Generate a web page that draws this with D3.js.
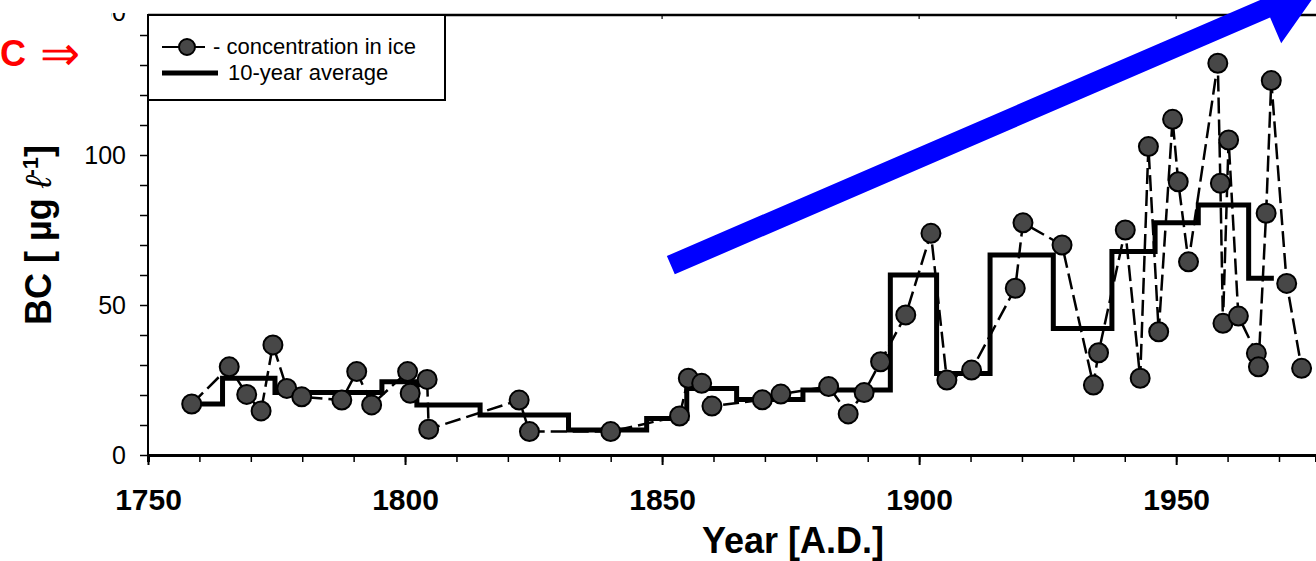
<!DOCTYPE html>
<html><head><meta charset="utf-8">
<script src="https://cdn.jsdelivr.net/npm/d3@7"></script>
<style>
body{margin:0;background:#fff}
svg{display:block}
text{font-family:"Liberation Sans",Arial,Helvetica,sans-serif}
</style>
</head><body>
<svg id="c" width="1316" height="561"></svg>
<script>
// ---- data ----
const years = [1758.5,1765.8,1769.2,1772.0,1774.3,1777.0,1779.9,1787.7,1790.6,1793.5,
  1800.5,1801.0,1804.3,1804.6,1822.2,1824.2,1840.0,1853.4,1855.1,1857.7,1859.7,
  1869.5,1873.1,1882.4,1886.2,1889.3,1892.5,1897.4,1902.3,1905.4,1910.2,1918.7,1920.2,
  1927.8,1933.9,1934.9,1940.1,1943.0,1944.6,1946.6,1949.3,1950.4,1952.4,1958.1,1958.6,
  1959.1,1960.2,1962.1,1965.6,1966.0,1967.5,1968.5,1971.5,1974.4];
const concentration = [17.0,29.4,20.2,14.7,36.7,22.2,19.4,18.3,27.8,16.7,
  27.8,20.6,25.2,8.6,18.3,7.8,7.8,13.0,25.6,23.9,16.3,
  18.4,20.3,22.8,13.7,20.8,31.1,46.7,73.9,25.0,28.3,55.6,77.4,
  70.0,23.3,34.1,75.0,25.6,102.8,41.1,111.9,91.1,64.4,130.6,90.6,
  43.9,105.0,46.3,33.9,29.4,80.6,124.8,57.2,28.9];
const avgStart = [1758.5,1764.5,1774.7,1795.5,1802.3,1814.6,1831.8,1847.0,1854.8,1864.5,1877.4,1894.4,1903.4,1913.8,1926.1,1937.5,1945.9,1954.3,1964.1];
const avgEnd   = [1764.5,1774.7,1795.5,1802.3,1814.6,1831.8,1847.0,1854.8,1864.5,1877.4,1894.4,1903.4,1913.8,1926.1,1937.5,1945.9,1954.3,1964.1,1969.0];
const avgValue = [17.0,25.6,20.8,24.4,16.7,13.3,8.3,12.2,22.2,18.5,21.7,60.0,27.2,66.7,42.2,67.8,77.4,83.3,58.9];
const xTicks = d3.range(1750, 1980, 10);
const xTickLabels = [1750, 1800, 1850, 1900, 1950];
const yTicks = d3.range(0, 150, 10);
const yTickLabels = [0, 50, 100];
const yTopLabel = "150";
const legendLabels = ["- concentration in ice", "10-year average"];
const xTitle = "Year [A.D.]";
const arrowFrom = [1851.7, 63.3];
const arrowTo = [1967.5, 148.9];

// ---- drawing ----
const svg = d3.select("#c");
svg.append("rect").attr("width",1316).attr("height",561).attr("fill","#fff");

const x = d3.scaleLinear().domain([1750, 1977.2]).range([148, 1316]);
const y = d3.scaleLinear().domain([0, 146.67]).range([455, 15]);

// frame
svg.append("line").attr("x1",148).attr("x2",1316).attr("y1",y(146.67)).attr("y2",y(146.67))
  .attr("stroke","#000").attr("stroke-width",2.5);
svg.append("line").attr("x1",x(1750)).attr("x2",x(1750)).attr("y1",y(146.67)).attr("y2",y(0))
  .attr("stroke","#000").attr("stroke-width",2);

// x axis
const xMinor = d3.axisBottom(x).tickValues(xTicks).tickSize(7).tickFormat("");
const gx = svg.append("g").attr("transform",`translate(0,${y(0)})`).call(xMinor);
gx.select(".domain").attr("stroke-width",3);
gx.selectAll(".tick line").attr("stroke-width",1.5);
const xMajor = d3.axisBottom(x).tickValues(xTickLabels).tickSize(10).tickFormat(d3.format("d")).tickPadding(24);
const gx2 = svg.append("g").attr("transform",`translate(0,${y(0)})`).call(xMajor);
gx2.select(".domain").remove();
gx2.selectAll(".tick line").attr("stroke-width",2);
gx2.selectAll("text").attr("font-size",30).attr("font-weight","bold").attr("fill","#000")
  .attr("font-family","'Liberation Sans',Arial,sans-serif");

// top border small ticks
svg.append("g").selectAll("line").data(xTickLabels).join("line")
  .attr("x1",d=>x(d)).attr("x2",d=>x(d)).attr("y1",y(146.67)).attr("y2",y(146.67)+4)
  .attr("stroke","#000").attr("stroke-width",1.2);

// y axis
const yAx = d3.axisLeft(y).tickValues(yTicks).tickSize(8).tickFormat(d => yTickLabels.includes(d) ? d : "").tickPadding(14);
const gy = svg.append("g").attr("transform",`translate(${x(1750)},0)`).call(yAx);
gy.select(".domain").remove();
gy.selectAll(".tick line").attr("stroke-width",1.5);
gy.selectAll("text").attr("font-size",25).attr("fill","#000")
  .attr("font-family","'Liberation Sans',Arial,sans-serif");

// partially visible top label (cut as in the reference)
const defs = svg.append("defs");
defs.append("clipPath").attr("id","topclip").append("rect")
  .attr("x",111).attr("y",13).attr("width",30).attr("height",20);
svg.append("text").attr("clip-path","url(#topclip)")
  .attr("x",126).attr("y",y(146.67)+6).attr("text-anchor","end")
  .attr("font-size",25).text(yTopLabel);

// 10-year average step line
const stepPts = [];
avgStart.forEach((s,i) => { stepPts.push([s, avgValue[i]]); stepPts.push([avgEnd[i], avgValue[i]]); });
svg.append("path").datum(stepPts)
  .attr("d", d3.line().x(d=>x(d[0])).y(d=>y(d[1])))
  .attr("fill","none").attr("stroke","#000").attr("stroke-width",5).attr("stroke-linejoin","miter");

// concentration line
const pts = years.map((yr,i)=>[yr, concentration[i]]);
svg.append("path").datum(pts)
  .attr("d", d3.line().x(d=>x(d[0])).y(d=>y(d[1])))
  .attr("fill","none").attr("stroke","#000").attr("stroke-width",2.5)
  .attr("stroke-dasharray","16,6");
svg.append("g").selectAll("circle").data(pts).join("circle")
  .attr("cx",d=>x(d[0])).attr("cy",d=>y(d[1])).attr("r",9.5)
  .attr("fill","#474747").attr("stroke","#000").attr("stroke-width",2);

// legend
svg.append("rect").attr("x",148).attr("y",15).attr("width",297).attr("height",85)
  .attr("fill","#fff").attr("stroke","#000").attr("stroke-width",2);
svg.append("line").attr("x1",162).attr("x2",205).attr("y1",47).attr("y2",47)
  .attr("stroke","#000").attr("stroke-width",2);
svg.append("circle").attr("cx",187).attr("cy",47).attr("r",8)
  .attr("fill","#474747").attr("stroke","#000").attr("stroke-width",2);
svg.append("line").attr("x1",162).attr("x2",218).attr("y1",73).attr("y2",73)
  .attr("stroke","#000").attr("stroke-width",5);
svg.append("text").attr("x",213).attr("y",54).attr("font-size",22).text(legendLabels[0]);
svg.append("text").attr("x",228).attr("y",80).attr("font-size",22).text(legendLabels[1]);

// axis titles
svg.append("text").attr("x",793).attr("y",553).attr("text-anchor","middle")
  .attr("font-size",36).attr("font-weight","bold").text(xTitle);
const yt = svg.append("text").attr("transform","translate(51,235) rotate(-90)")
  .attr("text-anchor","middle").attr("font-size",36).attr("font-weight","bold");
yt.append("tspan").text("BC [ µg ");
yt.append("tspan").attr("font-style","italic").attr("font-weight","normal").text("ℓ");
yt.append("tspan").attr("font-size",22).attr("dy",-13).text("-1");
yt.append("tspan").attr("dy",13).text("]");

// blue arrow annotation
const p0 = [x(arrowFrom[0]), y(arrowFrom[1])];
const p1 = [x(arrowTo[0]), y(arrowTo[1])];
const len = Math.hypot(p1[0]-p0[0], p1[1]-p0[1]);
const u = [(p1[0]-p0[0])/len, (p1[1]-p0[1])/len];
const n = [-u[1], u[0]];
const sw = 10, hw = 38, hl = 62;
const P = (b, a, k) => [b[0]+a[0]*k, b[1]+a[1]*k];
const poly = [P(p0,n,sw), P(p1,n,sw), P(p1,n,hw), P(p1,u,hl), P(p1,n,-hw), P(p1,n,-sw), P(p0,n,-sw)];
svg.append("path").attr("d", d3.line()(poly) + "Z").attr("fill","#0000ff");

// red label
svg.append("text").attr("x",0).attr("y",66).attr("font-size",36).attr("font-weight","bold")
  .attr("fill","#ff0000").text("C");
svg.append("text").attr("x",40).attr("y",70).attr("font-size",48)
  .attr("font-family","'DejaVu Sans',sans-serif").attr("font-weight","normal").attr("fill","#ff0000").text("⇒");
</script>
</body></html>
